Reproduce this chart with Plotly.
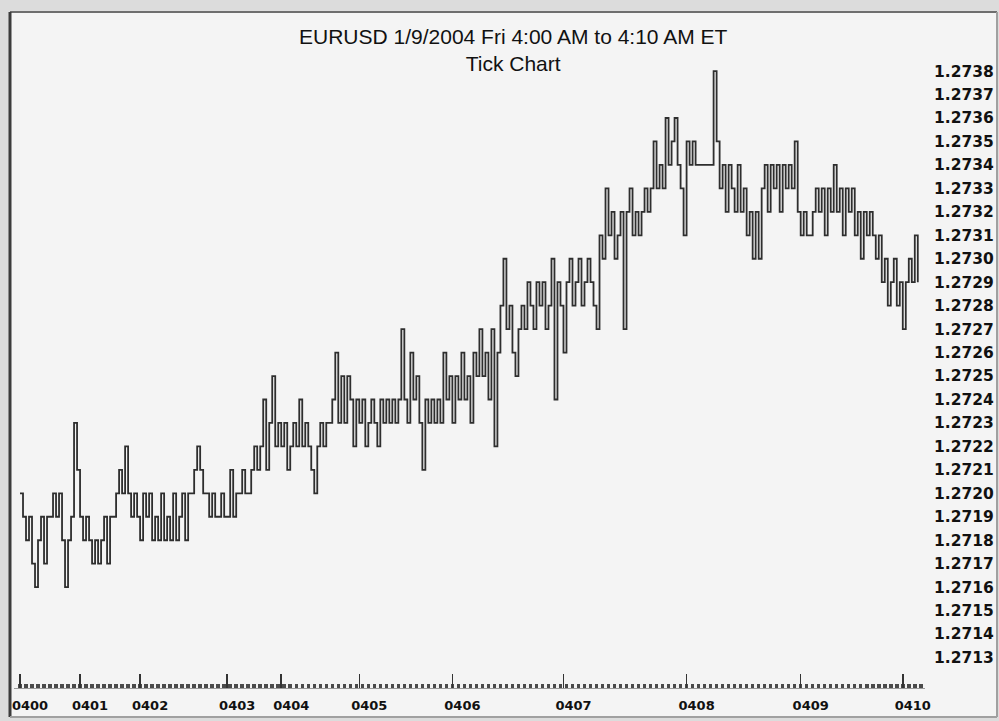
import plotly.graph_objects as go

# Tick values in pips above 1.2700 (one entry per tick)
pips_0400 = [20,19,18,19,17,16,18,19,17,19,19,20,19,20,18,16,18,19,23,21]
pips_0401 = [19,18,19,18,17,18,17,18,19,17,19,19,20,21,20,22,20,19,20,19]
pips_0402 = [18,20,19,20,18,19,18,20,18,19,18,20,18,19,20,18,20,20,21,22,21,20,20,19,20,19,19,20,19]
pips_0403 = [19,21,19,20,20,21,20,20,21,22,21,22,24,21,23,25,22,23]
pips_0404 = [22,23,21,22,23,22,24,22,23,22,21,20,22,23,22,23,23,24,26,23,25,23,25,24,22,24]
pips_0405 = [23,24,22,23,24,23,22,24,23,24,23,24,23,24,27,24,23,26,24,25,23,21,24,23,24,23,24,23,26,24,25]
pips_0406 = [23,25,24,26,24,25,23,26,25,27,25,26,24,27,22,26,28,30,27,28,26,25,27,28,27,29,28,27,29,28,29,27,28,30,24,29,28]
pips_0407 = [26,29,30,28,29,30,28,29,30,29,28,27,31,30,33,31,32,30,31,32,27,32,33,31,32,31,32,33,32,33,35,33,34,33,36,34,35,36,34,33,31]
pips_0408 = [35,34,35,34,34,34,34,34,34,38,35,33,34,32,34,33,32,34,32,33,31,32,30,32,30,33,34,32,34,33,34,32,34,33,34,33,35,32]
pips_0409 = [31,32,31,31,32,33,32,33,31,33,32,34,32,33,31,33,32,33,31,32,30,32,31,32,31,30,31,29,30,28,29,30,28,29]
pips_0410 = [27,29,30,29,31,29]

minute_labels = ["0400","0401","0402","0403","0404","0405","0406","0407","0408","0409","0410"]
price_ticks = [1.2713 + i * 0.0001 for i in range(26)]

segments = [pips_0400, pips_0401, pips_0402, pips_0403, pips_0404, pips_0405,
            pips_0406, pips_0407, pips_0408, pips_0409, pips_0410]
pips = []
minute_idx = []
for seg in segments:
    minute_idx.append(len(pips))
    pips.extend(seg)
prices = [round(1.2700 + p * 0.0001, 4) for p in pips]
ticks = list(range(len(prices)))

fig = go.Figure()
fig.add_trace(go.Scatter(x=ticks, y=prices, mode="lines", line_shape="hv",
                         line=dict(color="#2e2e2e", width=1.8), hoverinfo="skip"))

W, H = 999, 721
L, R, T, B = 14, 74, 65, 33
pw, ph = W - L - R, H - T - B

def px(x):
    return (x - L) / pw

def py(y):
    return (H - B - y) / ph

fig.update_layout(
    width=W, height=H,
    margin=dict(l=L, r=R, t=T, b=B, autoexpand=False),
    paper_bgcolor="#f4f4f4", plot_bgcolor="#f4f4f4",
    showlegend=False,
    xaxis=dict(range=[-2, 301.4], showgrid=False, zeroline=False, automargin=False,
               tickmode="array", tickvals=minute_idx, ticktext=minute_labels,
               ticks="inside", ticklen=14, tickwidth=1.5, tickcolor="#333333",
               showline=True, linecolor="#9a9a9a", linewidth=1,
               tickfont=dict(family="DejaVu Sans, Verdana, sans-serif", size=13, color="#111111", weight="bold"),
               ticklabelshift=10, ticklabelstandoff=5,
               minor=dict(ticks="inside", ticklen=4, tickwidth=3.5, tickcolor="#4a4a4a", dtick=2, tick0=0, showgrid=False),
               fixedrange=True),
    yaxis=dict(range=[1.27117, 1.273826], side="right", showgrid=False, zeroline=False, automargin=False,
               tickmode="array", tickvals=price_ticks,
               ticktext=[f"{v:.4f}" for v in price_ticks],
               ticks="", showline=False, ticklabelstandoff=8,
               tickfont=dict(family="DejaVu Sans, Verdana, sans-serif", size=15.5, color="#111111", weight="bold"),
               fixedrange=True),
)

title_font = dict(family="Liberation Sans, Arial, sans-serif", size=21, color="#111111")
fig.add_annotation(text="EURUSD 1/9/2004 Fri 4:00 AM to 4:10 AM ET<br>Tick Chart", xref="paper", yref="paper",
                   x=px(513), y=py(50), showarrow=False, font=title_font, xanchor="center", yanchor="middle",
                   align="center")

# window frame
fig.add_shape(type="rect", xref="paper", yref="paper", x0=px(0), x1=px(999), y0=py(721), y1=py(0),
              fillcolor="#dcdcdc", line=dict(width=0), layer="below")
fig.add_shape(type="rect", xref="paper", yref="paper", x0=px(10), x1=px(997), y0=py(717), y1=py(12),
              fillcolor="#f4f4f4", line=dict(width=0), layer="below")
fig.add_shape(type="line", xref="paper", yref="paper", x0=px(10), x1=px(997), y0=py(12), y1=py(12),
              line=dict(color="#6e6e6e", width=2))
fig.add_shape(type="line", xref="paper", yref="paper", x0=px(10), x1=px(10), y0=py(12), y1=py(717),
              line=dict(color="#3c3c3c", width=3))
fig.add_shape(type="line", xref="paper", yref="paper", x0=px(10), x1=px(997), y0=py(717), y1=py(717),
              line=dict(color="#a0a0a0", width=2))
fig.add_shape(type="line", xref="paper", yref="paper", x0=px(997), x1=px(997), y0=py(12), y1=py(717),
              line=dict(color="#a0a0a0", width=2))

fig.write_html("out.html", config={"displayModeBar": False, "staticPlot": True},
               post_script="document.body.style.margin='0';document.body.style.overflow='hidden';")
